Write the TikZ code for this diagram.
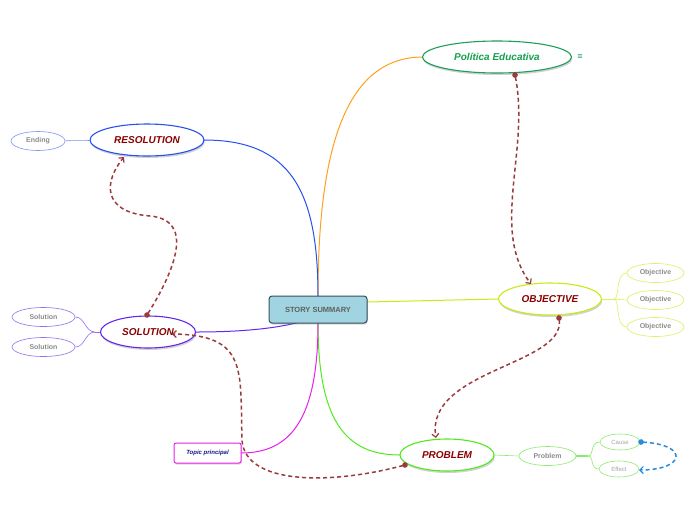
\documentclass[tikz,border=0pt]{standalone}
\usepackage{fontspec}
\setmainfont{Liberation Sans}
\usetikzlibrary{shapes.geometric,shadows,arrows.meta}
\definecolor{rel}{HTML}{9A3B3B}
\definecolor{dred}{HTML}{8B0000}
\definecolor{corange}{RGB}{255,160,30}
\definecolor{cblue}{RGB}{40,80,240}
\definecolor{cyellow}{RGB}{200,235,20}
\definecolor{cpurple}{RGB}{100,40,240}
\definecolor{cgreen}{RGB}{80,235,30}
\definecolor{cmag}{RGB}{235,30,235}
\definecolor{polgreen}{RGB}{30,158,90}
\definecolor{poltext}{RGB}{20,160,80}
\definecolor{cline}{RGB}{55,80,95}
\definecolor{cfill}{RGB}{160,212,225}
\definecolor{topictext}{RGB}{20,20,140}
\definecolor{lblue}{RGB}{120,150,240}
\definecolor{lyellow}{RGB}{220,240,100}
\definecolor{lpurple}{RGB}{150,110,240}
\definecolor{lgreen}{RGB}{140,235,110}
\definecolor{arrblue}{RGB}{40,140,220}
\tikzset{
  big/.style={ellipse, draw, line width=1.1pt, fill=white, inner sep=0pt,
    minimum width=#1, minimum height=32pt,
    font=\bfseries\itshape\fontsize{10}{12}\selectfont, text=dred,
    drop shadow={opacity=0.35, shadow xshift=0.8pt, shadow yshift=-2pt}},
  small/.style={ellipse, draw, line width=0.6pt, fill=white, inner sep=0pt,
    minimum width=#1, minimum height=19pt,
    font=\bfseries\fontsize{7}{8}\selectfont, text=gray!90},
  tiny/.style={ellipse, draw, line width=0.6pt, fill=white, inner sep=0pt,
    minimum width=40pt, minimum height=16pt,
    font=\fontsize{6}{7}\selectfont, text=gray!70},
  branch/.style={line width=1pt},
  relarrow/.style={line width=1.5pt, dash pattern=on 4pt off 3pt,
    {Circle[length=5.5pt,sep=-2.75pt]}-{Straight Barb[length=3.5pt,width=7pt,line width=1.2pt]}},
}
\begin{document}
\begin{tikzpicture}[x=1pt,y=-1pt]
\useasboundingbox[fill=white] (0,0) rectangle (696,520);

% branches from centre (drawn first)
\coordinate (ctop) at (318,296);
\coordinate (cbot) at (318,323);
\draw[branch, corange] (ctop) .. controls (318,150) and (345,57) .. (423,57);
\draw[branch, cblue] (ctop) .. controls (318,190) and (290,140) .. (204,140);
\draw[branch, cyellow] (367,302) -- (498,299);
\draw[branch, cpurple] (300,322) .. controls (270,330) and (230,332) .. (196,332);
\draw[branch, cgreen] (cbot) .. controls (318,420) and (345,455) .. (400,455);
\draw[branch, cmag] (cbot) .. controls (318,420) and (290,453) .. (241,453);

% main nodes
\node[draw=cline, line width=1pt, fill=cfill,
  rounded corners=3pt, minimum width=98pt, minimum height=27pt, inner sep=0pt,
  font=\bfseries\fontsize{7.5}{9}\selectfont, text=gray!75!black,
  drop shadow={opacity=0.3, shadow xshift=0.8pt, shadow yshift=-1.5pt}] (center) at (318,309.5) {STORY SUMMARY};

\node[big=149pt, draw=polgreen, text=poltext] (pol) at (497,57) {Política Educativa};
\node[text=polgreen, font=\fontsize{9}{10}\selectfont] (policon) at (580,57) {≡};

\node[big=114pt, draw=cblue] (res) at (147,140) {RESOLUTION};
\node[big=103pt, draw=cyellow] (obj) at (550,299) {OBJECTIVE};
\node[big=95pt, draw=cpurple] (sol) at (148,332) {SOLUTION};
\node[big=94pt, draw=cgreen] (prob) at (447,455) {PROBLEM};

\node[draw=cmag, line width=1pt, fill=white, rounded corners=2pt,
  minimum width=67pt, minimum height=20pt, inner sep=0pt,
  font=\bfseries\itshape\fontsize{6}{7}\selectfont, text=topictext,
  drop shadow={opacity=0.3, shadow xshift=0.8pt, shadow yshift=-1.5pt}] (topic) at (207.5,453) {Topic principal};

% small nodes
\node[small=54pt, draw=lblue] (end) at (38,141) {Ending};
\draw[line width=0.6pt, lblue] (end) -- (res);

\node[small=57pt, draw=lyellow] (o1) at (655.5,273) {Objective};
\node[small=57pt, draw=lyellow] (o2) at (655.5,300) {Objective};
\node[small=57pt, draw=lyellow] (o3) at (655.5,327) {Objective};
\coordinate (ob) at (614,299);
\begin{scope}[line width=0.6pt, lyellow]
\draw (obj.east) -- (ob);
\draw (ob) .. controls (620,299) and (615,273) .. (o1.west);
\draw (ob) -- (o2.west);
\draw (ob) .. controls (620,299) and (615,327) .. (o3.west);
\end{scope}

\node[small=63pt, draw=lpurple] (s1) at (43.5,317) {Solution};
\node[small=63pt, draw=lpurple] (s2) at (43.5,347) {Solution};
\coordinate (sb) at (95,332);
\begin{scope}[line width=0.6pt, lpurple]
\draw (sol.west) -- (sb);
\draw (sb) .. controls (85,332) and (85,317) .. (s1.east);
\draw (sb) .. controls (85,332) and (85,347) .. (s2.east);
\end{scope}

\node[small=57pt, draw=lgreen] (p1) at (547.5,456) {Problem};
\draw[line width=0.6pt, lgreen] (prob.east) -- (p1.west);
\node[tiny, draw=lgreen] (cause) at (620,442) {Cause};
\node[tiny, draw=lgreen] (effect) at (619,469) {Effect};
\coordinate (pb) at (588,456);
\begin{scope}[line width=0.6pt, lgreen]
\draw[line width=1.2pt] (p1.east) -- (pb);
\draw (pb) .. controls (594,456) and (590,442) .. (cause.west);
\draw (pb) .. controls (594,456) and (590,469) .. (effect.west);
\end{scope}

% relationship arrows
\draw[relarrow, rel] (515,75) .. controls (530,150) and (490,230) .. (531,284);
\draw[relarrow, rel] (559,318) .. controls (565,365) and (425,370) .. (436,438);
\draw[relarrow, rel] (147,315) .. controls (175,270) and (195,220) .. (150,216)
   .. controls (100,212) and (105,180) .. (124,157);
\draw[relarrow, rel] (405,465) .. controls (330,485) and (245,485) .. (242,440)
   .. controls (240,370) and (248,335) .. (172,334);
\draw[relarrow, arrblue] (641,442) .. controls (690,445) and (685,470) .. (639,470);
\end{tikzpicture}
\end{document}
